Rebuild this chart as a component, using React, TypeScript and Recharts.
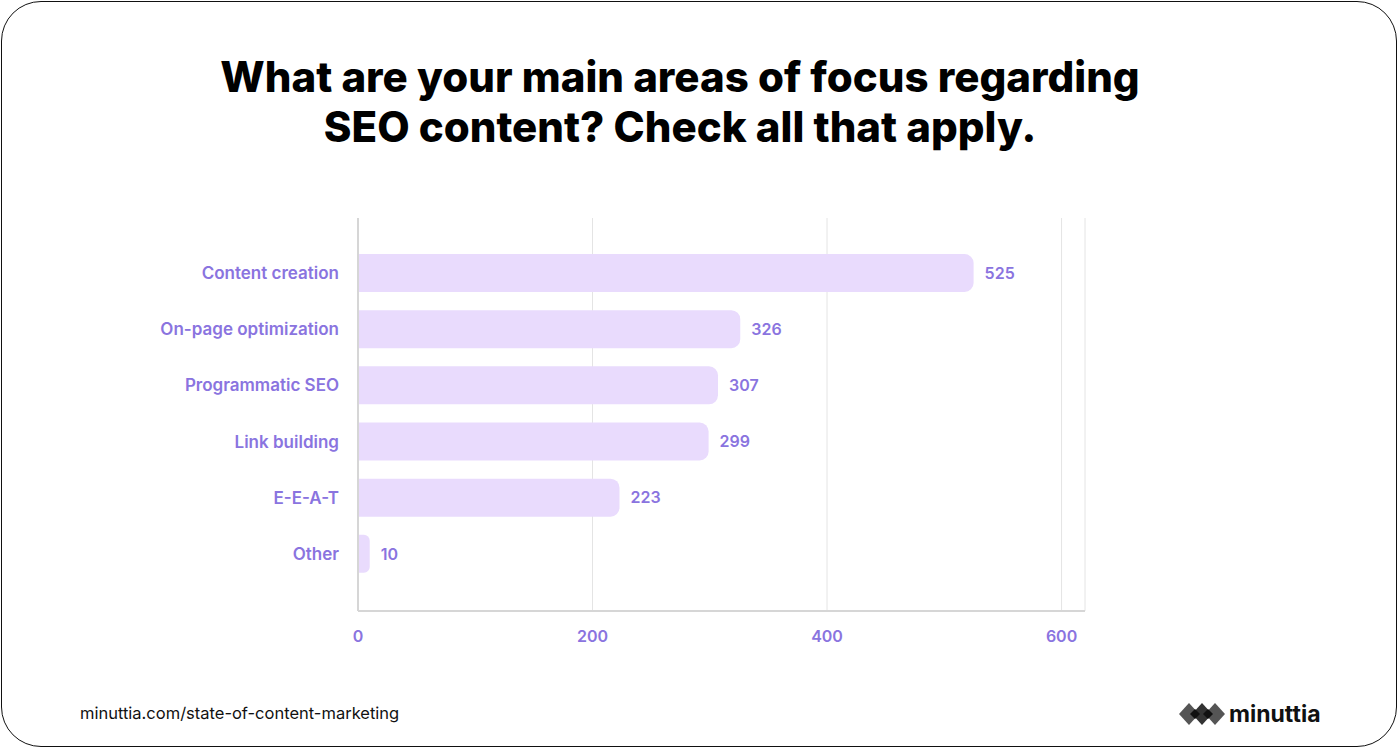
import { BarChart, Bar, XAxis, YAxis, CartesianGrid, LabelList } from 'recharts';

const categories = ['Content creation', 'On-page optimization', 'Programmatic SEO', 'Link building', 'E-E-A-T', 'Other'];
const responses = [525, 326, 307, 299, 223, 10];
const xTicks = [0, 200, 400, 600];

const data = categories.map((name, i) => ({ name, value: responses[i] }));

const purple = '#8A74DF';
const font = 'Inter, "Open Sans", sans-serif';

function Logo() {
  return (
    <div style={{ position: 'absolute', left: 1178, top: 700, display: 'flex', alignItems: 'center' }}>
      <svg width={48} height={26} viewBox="0 0 48 26">
        <polygon points="11,2 21,13 11,24 1,13" fill="#555" />
        <polygon points="24,2 34,13 24,24 14,13" fill="#333" />
        <polygon points="37,2 47,13 37,24 27,13" fill="#555" />
        <polygon points="17,8 22,13 17,18 12,13" fill="#111" />
        <polygon points="30,8 35,13 30,18 25,13" fill="#111" />
      </svg>
      <span style={{ fontFamily: font, fontWeight: 700, fontSize: 23, color: '#111', marginLeft: 3 }}>
        minuttia
      </span>
    </div>
  );
}

export default function App() {
  return (
    <div style={{ position: 'absolute', left: 0, top: 0, width: 1400, height: 750, background: '#fff', overflow: 'hidden' }}>
      <div
        style={{
          position: 'absolute',
          left: 1,
          top: 1,
          width: 1396,
          height: 746,
          border: '1.5px solid #111',
          borderRadius: 40,
          boxSizing: 'border-box',
        }}
      />
      <div
        style={{
          position: 'absolute',
          left: 0,
          top: 52,
          width: 1360,
          textAlign: 'center',
          fontFamily: font,
          fontWeight: 800,
          fontSize: 42,
          lineHeight: '50px',
          color: '#000',
        }}
      >
        What are your main areas of focus regarding
        <br />
        SEO content? Check all that apply.
      </div>
      <div style={{ position: 'absolute', left: 0, top: 0 }}>
        <BarChart
          width={1400}
          height={660}
          data={data}
          layout="vertical"
          margin={{ top: 218, right: 315, left: 0, bottom: 0 }}
        >
          <CartesianGrid horizontal={false} stroke="#E4E4E4" strokeWidth={1} />
          <XAxis
            type="number"
            domain={[0, 620]}
            ticks={xTicks}
            height={49}
            axisLine={{ stroke: '#D6D6D6', strokeWidth: 2 }}
            tickLine={false}
            tickMargin={14}
            tick={{ fill: purple, fontSize: 16, fontWeight: 600, fontFamily: font }}
          />
          <YAxis
            type="category"
            dataKey="name"
            width={358}
            padding={{ top: 27, bottom: 29 }}
            axisLine={{ stroke: '#D6D6D6', strokeWidth: 2 }}
            tickLine={false}
            tickMargin={13}
            tick={{ fill: purple, fontSize: 17, fontWeight: 600, fontFamily: font }}
          />
          <Bar dataKey="value" fill="#E9DBFD" barSize={38} radius={[0, 9, 9, 0]} isAnimationActive={false}>
            <LabelList
              dataKey="value"
              position="right"
              offset={11}
              fill={purple}
              style={{ fontSize: 16, fontWeight: 600, fontFamily: font }}
            />
          </Bar>
        </BarChart>
      </div>
      <div style={{ position: 'absolute', left: 80, top: 703, fontFamily: font, fontSize: 16.5, color: '#111' }}>
        minuttia.com/state-of-content-marketing
      </div>
      <Logo />
    </div>
  );
}
